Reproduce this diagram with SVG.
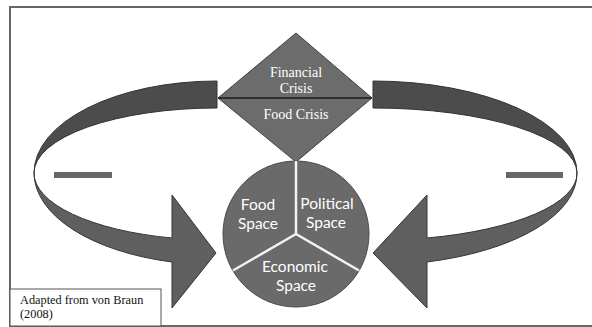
<svg xmlns="http://www.w3.org/2000/svg" width="592" height="327" viewBox="0 0 592 327">
<style>
.back{fill:#4c4c4c;stroke:#333;stroke-width:1}
.front{fill:#5f5f5f;stroke:#363636;stroke-width:1}
.dash{fill:#676767}
.dia{fill:#6c6c6c;stroke:#444;stroke-width:1}
.ser{font-family:"Liberation Serif","Times New Roman",serif}
.san{font-family:Lato,"Open Sans",sans-serif;font-size:15.5px;fill:#fff;text-anchor:middle}
.dt{font-size:14px;fill:#fff;text-anchor:middle}
.cap{font-size:12.3px;fill:#111}
</style>
<rect x="0" y="0" width="592" height="327" fill="#fff"/>
<rect x="10" y="7" width="600" height="319" fill="#fff" stroke="#666" stroke-width="2"/>
<g id="connectors">
<g id="left-arrow">
<path class="back" d="M217,81 A183,92 0 0,0 34,173 A183,65 0 0,1 217,108 Z"/>
<path class="front" d="M34,173 A183,67 0 0,0 172,238 L172,195 L216,253 L172,308 L172,262 A183,92 0 0,1 34,173 Z"/>
</g>
<g id="right-arrow">
<path class="back" d="M373,81 A204,92 0 0,1 577,173 A204,65 0 0,0 373,108 Z"/>
<path class="front" d="M577,173 A204,67 0 0,1 427,238 L427,195 L373,253 L427,308 L427,262 A204,92 0 0,0 577,173 Z"/>
</g>
<rect class="dash" x="54" y="172" width="58" height="6"/>
<rect class="dash" x="506" y="172" width="57" height="6"/>
</g>
<g id="crises">
<path class="dia" d="M296,33 L372,98 L296,162 L218,98 Z"/>
<line x1="218" y1="98" x2="372" y2="98" stroke="#2e2e2e" stroke-width="2"/>
<text class="ser dt" x="296" y="77">Financial</text>
<text class="ser dt" x="296" y="93">Crisis</text>
<text class="ser dt" x="296" y="119">Food Crisis</text>
</g>
<g id="spaces">
<circle cx="296" cy="234" r="73" fill="#6a6a6a" stroke="#4a4a4a" stroke-width="1"/>
<g stroke="#f2f2f2" stroke-width="2.5" fill="none">
<line x1="296" y1="161" x2="296" y2="234"/>
<line x1="296" y1="234" x2="233" y2="270.5"/>
<line x1="296" y1="234" x2="359" y2="270.5"/>
</g>
<text class="san" x="258" y="210">Food</text>
<text class="san" x="258" y="229">Space</text>
<text class="san" x="327" y="209">Political</text>
<text class="san" x="326" y="228">Space</text>
<text class="san" x="295" y="272">Economic</text>
<text class="san" x="296" y="291">Space</text>
</g>
<g id="caption">
<rect x="10" y="289" width="151" height="37" fill="#fff" stroke="#555" stroke-width="1"/>
<text class="ser cap" x="20" y="304">Adapted from von Braun</text>
<text class="ser cap" x="20" y="318">(2008)</text>
</g>
</svg>
